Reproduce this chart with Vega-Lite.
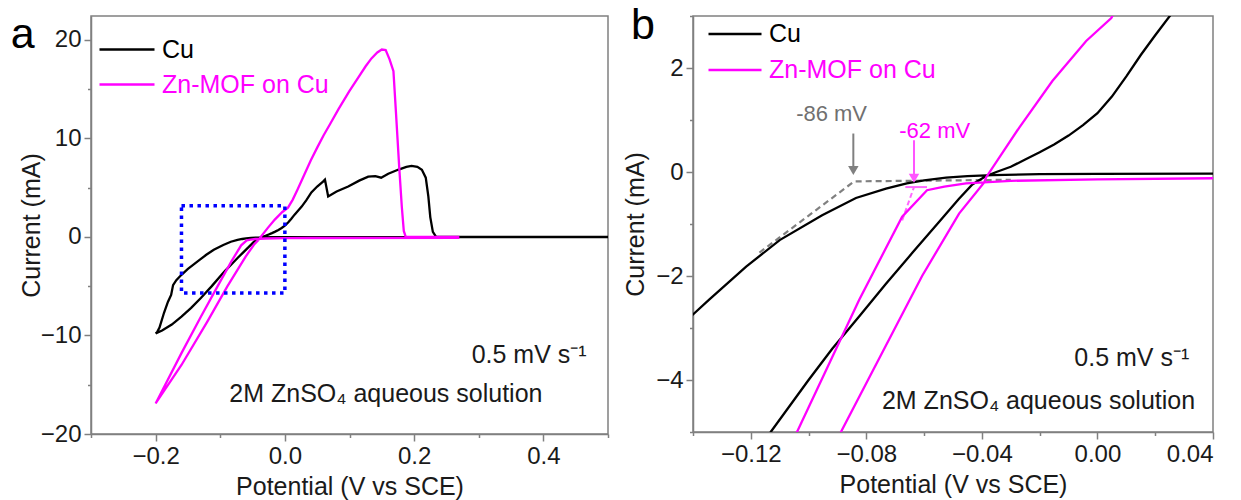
{
  "$schema": "https://vega.github.io/schema/vega-lite/v6.json",
  "background": "white",
  "padding": {"left": 10, "top": 4, "right": 4, "bottom": 0},
  "config": {
    "font": "Liberation Sans",
    "view": {"stroke": "#808080", "strokeWidth": 1.5},
    "axis": {"domainColor": "#808080", "domainWidth": 1.5, "tickColor": "#808080", "tickWidth": 1.5, "tickSize": 7, "labelColor": "#1a1a1a", "labelFontSize": 24, "labelFont": "Liberation Sans", "titleFont": "Liberation Sans", "titleFontSize": 25, "titleFontWeight": "normal", "titleColor": "#1a1a1a", "grid": false, "labelPadding": 3},
    "concat": {"spacing": 12}
  },
  "resolve": {"scale": {"color": "independent"}, "legend": {"color": "independent"}},
  "datasets": {
    "cv": [
      {"s": "Cu", "i": 1, "v": 0.5, "c": -0.03},
      {"s": "Cu", "i": 2, "v": 0.3, "c": -0.03},
      {"s": "Cu", "i": 3, "v": 0.1, "c": -0.03},
      {"s": "Cu", "i": 4, "v": 0.04, "c": -0.03},
      {"s": "Cu", "i": 5, "v": 0.0, "c": -0.035},
      {"s": "Cu", "i": 6, "v": -0.02, "c": -0.04},
      {"s": "Cu", "i": 7, "v": -0.0364, "c": -0.06},
      {"s": "Cu", "i": 8, "v": -0.045, "c": -0.08},
      {"s": "Cu", "i": 9, "v": -0.0524, "c": -0.11},
      {"s": "Cu", "i": 10, "v": -0.06, "c": -0.16},
      {"s": "Cu", "i": 11, "v": -0.066, "c": -0.22},
      {"s": "Cu", "i": 12, "v": -0.0732, "c": -0.32},
      {"s": "Cu", "i": 13, "v": -0.0836, "c": -0.5},
      {"s": "Cu", "i": 14, "v": -0.0953, "c": -0.83},
      {"s": "Cu", "i": 15, "v": -0.11, "c": -1.31},
      {"s": "Cu", "i": 16, "v": -0.1216, "c": -1.82},
      {"s": "Cu", "i": 17, "v": -0.1345, "c": -2.46},
      {"s": "Cu", "i": 18, "v": -0.14, "c": -2.74},
      {"s": "Cu", "i": 19, "v": -0.15, "c": -3.25},
      {"s": "Cu", "i": 20, "v": -0.16, "c": -3.85},
      {"s": "Cu", "i": 21, "v": -0.168, "c": -4.4},
      {"s": "Cu", "i": 22, "v": -0.173, "c": -4.9},
      {"s": "Cu", "i": 23, "v": -0.176, "c": -5.9},
      {"s": "Cu", "i": 24, "v": -0.181, "c": -6.6},
      {"s": "Cu", "i": 25, "v": -0.187, "c": -7.7},
      {"s": "Cu", "i": 26, "v": -0.194, "c": -9.2},
      {"s": "Cu", "i": 27, "v": -0.198, "c": -9.7},
      {"s": "Cu", "i": 28, "v": -0.2, "c": -9.8},
      {"s": "Cu", "i": 29, "v": -0.19, "c": -9.5},
      {"s": "Cu", "i": 30, "v": -0.175, "c": -8.9},
      {"s": "Cu", "i": 31, "v": -0.16, "c": -8.1},
      {"s": "Cu", "i": 32, "v": -0.145, "c": -7.2},
      {"s": "Cu", "i": 33, "v": -0.13, "c": -6.2},
      {"s": "Cu", "i": 34, "v": -0.1131, "c": -5.0},
      {"s": "Cu", "i": 35, "v": -0.1, "c": -4.0},
      {"s": "Cu", "i": 36, "v": -0.0918, "c": -3.4},
      {"s": "Cu", "i": 37, "v": -0.0825, "c": -2.78},
      {"s": "Cu", "i": 38, "v": -0.0732, "c": -2.15},
      {"s": "Cu", "i": 39, "v": -0.064, "c": -1.55},
      {"s": "Cu", "i": 40, "v": -0.055, "c": -0.97},
      {"s": "Cu", "i": 41, "v": -0.048, "c": -0.52},
      {"s": "Cu", "i": 42, "v": -0.0433, "c": -0.24},
      {"s": "Cu", "i": 43, "v": -0.0387, "c": -0.08},
      {"s": "Cu", "i": 44, "v": -0.035, "c": 0.0},
      {"s": "Cu", "i": 45, "v": -0.03, "c": 0.1},
      {"s": "Cu", "i": 46, "v": -0.025, "c": 0.24},
      {"s": "Cu", "i": 47, "v": -0.02, "c": 0.38},
      {"s": "Cu", "i": 48, "v": -0.015, "c": 0.53},
      {"s": "Cu", "i": 49, "v": -0.01, "c": 0.7},
      {"s": "Cu", "i": 50, "v": -0.005, "c": 0.9},
      {"s": "Cu", "i": 51, "v": 0.0, "c": 1.13},
      {"s": "Cu", "i": 52, "v": 0.005, "c": 1.45},
      {"s": "Cu", "i": 53, "v": 0.01, "c": 1.84},
      {"s": "Cu", "i": 54, "v": 0.015, "c": 2.25},
      {"s": "Cu", "i": 55, "v": 0.02, "c": 2.63},
      {"s": "Cu", "i": 56, "v": 0.026, "c": 3.07},
      {"s": "Cu", "i": 57, "v": 0.033, "c": 3.7},
      {"s": "Cu", "i": 58, "v": 0.041, "c": 4.5},
      {"s": "Cu", "i": 59, "v": 0.05, "c": 5.1},
      {"s": "Cu", "i": 60, "v": 0.059, "c": 5.6},
      {"s": "Cu", "i": 61, "v": 0.062, "c": 5.8},
      {"s": "Cu", "i": 62, "v": 0.067, "c": 4.1},
      {"s": "Cu", "i": 63, "v": 0.08, "c": 4.6},
      {"s": "Cu", "i": 64, "v": 0.098, "c": 5.1},
      {"s": "Cu", "i": 65, "v": 0.115, "c": 5.7},
      {"s": "Cu", "i": 66, "v": 0.129, "c": 6.1},
      {"s": "Cu", "i": 67, "v": 0.14, "c": 6.15},
      {"s": "Cu", "i": 68, "v": 0.149, "c": 6.0},
      {"s": "Cu", "i": 69, "v": 0.16, "c": 6.4},
      {"s": "Cu", "i": 70, "v": 0.175, "c": 6.8},
      {"s": "Cu", "i": 71, "v": 0.188, "c": 7.1},
      {"s": "Cu", "i": 72, "v": 0.196, "c": 7.2},
      {"s": "Cu", "i": 73, "v": 0.205, "c": 7.1},
      {"s": "Cu", "i": 74, "v": 0.212, "c": 6.8},
      {"s": "Cu", "i": 75, "v": 0.218, "c": 6.0},
      {"s": "Cu", "i": 76, "v": 0.222, "c": 4.1},
      {"s": "Cu", "i": 77, "v": 0.225, "c": 2.0},
      {"s": "Cu", "i": 78, "v": 0.229, "c": 0.5},
      {"s": "Cu", "i": 79, "v": 0.234, "c": 0.0},
      {"s": "Cu", "i": 80, "v": 0.5, "c": 0.0},
      {"s": "Zn-MOF on Cu", "i": 1, "v": 0.27, "c": -0.1},
      {"s": "Zn-MOF on Cu", "i": 2, "v": 0.04, "c": -0.12},
      {"s": "Zn-MOF on Cu", "i": 3, "v": 0.0, "c": -0.14},
      {"s": "Zn-MOF on Cu", "i": 4, "v": -0.03, "c": -0.17},
      {"s": "Zn-MOF on Cu", "i": 5, "v": -0.0455, "c": -0.22},
      {"s": "Zn-MOF on Cu", "i": 6, "v": -0.053, "c": -0.28},
      {"s": "Zn-MOF on Cu", "i": 7, "v": -0.059, "c": -0.35},
      {"s": "Zn-MOF on Cu", "i": 8, "v": -0.0676, "c": -0.86},
      {"s": "Zn-MOF on Cu", "i": 9, "v": -0.0825, "c": -2.46},
      {"s": "Zn-MOF on Cu", "i": 10, "v": -0.104, "c": -5.0},
      {"s": "Zn-MOF on Cu", "i": 11, "v": -0.13, "c": -8.1},
      {"s": "Zn-MOF on Cu", "i": 12, "v": -0.16, "c": -11.8},
      {"s": "Zn-MOF on Cu", "i": 13, "v": -0.2, "c": -16.9},
      {"s": "Zn-MOF on Cu", "i": 14, "v": -0.16, "c": -13.0},
      {"s": "Zn-MOF on Cu", "i": 15, "v": -0.12, "c": -8.6},
      {"s": "Zn-MOF on Cu", "i": 16, "v": -0.0888, "c": -5.0},
      {"s": "Zn-MOF on Cu", "i": 17, "v": -0.0607, "c": -2.0},
      {"s": "Zn-MOF on Cu", "i": 18, "v": -0.0479, "c": -0.8},
      {"s": "Zn-MOF on Cu", "i": 19, "v": -0.0392, "c": -0.2},
      {"s": "Zn-MOF on Cu", "i": 20, "v": -0.0385, "c": -0.1},
      {"s": "Zn-MOF on Cu", "i": 21, "v": -0.027, "c": 0.86},
      {"s": "Zn-MOF on Cu", "i": 22, "v": -0.0156, "c": 1.75},
      {"s": "Zn-MOF on Cu", "i": 23, "v": -0.0039, "c": 2.52},
      {"s": "Zn-MOF on Cu", "i": 24, "v": 0.0048, "c": 2.96},
      {"s": "Zn-MOF on Cu", "i": 25, "v": 0.012, "c": 3.75},
      {"s": "Zn-MOF on Cu", "i": 26, "v": 0.02, "c": 4.85},
      {"s": "Zn-MOF on Cu", "i": 27, "v": 0.03, "c": 6.3},
      {"s": "Zn-MOF on Cu", "i": 28, "v": 0.04, "c": 7.75},
      {"s": "Zn-MOF on Cu", "i": 29, "v": 0.05, "c": 9.05},
      {"s": "Zn-MOF on Cu", "i": 30, "v": 0.06, "c": 10.3},
      {"s": "Zn-MOF on Cu", "i": 31, "v": 0.07, "c": 11.45},
      {"s": "Zn-MOF on Cu", "i": 32, "v": 0.083, "c": 12.95},
      {"s": "Zn-MOF on Cu", "i": 33, "v": 0.1, "c": 14.8},
      {"s": "Zn-MOF on Cu", "i": 34, "v": 0.114, "c": 16.2},
      {"s": "Zn-MOF on Cu", "i": 35, "v": 0.125, "c": 17.3},
      {"s": "Zn-MOF on Cu", "i": 36, "v": 0.134, "c": 18.1},
      {"s": "Zn-MOF on Cu", "i": 37, "v": 0.143, "c": 18.7},
      {"s": "Zn-MOF on Cu", "i": 38, "v": 0.15, "c": 19.0},
      {"s": "Zn-MOF on Cu", "i": 39, "v": 0.156, "c": 18.95},
      {"s": "Zn-MOF on Cu", "i": 40, "v": 0.162, "c": 18.0},
      {"s": "Zn-MOF on Cu", "i": 41, "v": 0.168, "c": 16.8},
      {"s": "Zn-MOF on Cu", "i": 42, "v": 0.172, "c": 12.5},
      {"s": "Zn-MOF on Cu", "i": 43, "v": 0.177, "c": 7.0},
      {"s": "Zn-MOF on Cu", "i": 44, "v": 0.181, "c": 3.0},
      {"s": "Zn-MOF on Cu", "i": 45, "v": 0.184, "c": 0.6},
      {"s": "Zn-MOF on Cu", "i": 46, "v": 0.187, "c": 0.0},
      {"s": "Zn-MOF on Cu", "i": 47, "v": 0.27, "c": 0.0}
    ],
    "notes": [
      {"p": "a", "k": "letter", "v": -0.424, "c": 19.2, "t": "a"},
      {"p": "b", "k": "letter", "v": -0.1615, "c": 2.56, "t": "b"},
      {"p": "a", "k": "black", "v": 0.289, "c": -12.8, "t": "0.5 mV s⁻¹"},
      {"p": "a", "k": "black", "v": -0.086, "c": -16.8, "t": "2M ZnSO₄ aqueous solution"},
      {"p": "b", "k": "black", "v": -0.008, "c": -3.74, "t": "0.5 mV s⁻¹"},
      {"p": "b", "k": "black", "v": -0.0746, "c": -4.56, "t": "2M ZnSO₄ aqueous solution"},
      {"p": "b", "k": "gray", "v": -0.1043, "c": 0.99, "t": "-86 mV"},
      {"p": "b", "k": "magenta", "v": -0.0686, "c": 0.66, "t": "-62 mV"}
    ],
    "box": [{"x1": -0.16, "x2": 0.0, "y1": -5.7, "y2": 3.15}],
    "guides": [
      {"g": "gray", "i": 1, "v": -0.117, "c": -1.55},
      {"g": "gray", "i": 2, "v": -0.0842, "c": -0.18},
      {"g": "gray", "i": 3, "v": -0.03, "c": -0.15},
      {"g": "mag", "i": 1, "v": -0.0676, "c": -0.93},
      {"g": "mag", "i": 2, "v": -0.0635, "c": -0.29},
      {"g": "magh", "i": 1, "v": -0.0665, "c": -0.29},
      {"g": "magh", "i": 2, "v": -0.059, "c": -0.29}
    ],
    "arrows": [
      {"k": "gray", "v": -0.0845, "c1": 0.74, "c2": 0.03},
      {"k": "mag", "v": -0.0635, "c1": 0.61, "c2": -0.12}
    ]
  },
  "hconcat": [
    {
      "width": 517,
      "height": 418,
      "layer": [
        {
          "data": {"name": "cv"},
          "mark": {"type": "line", "strokeWidth": 2.3, "clip": true},
          "encoding": {
            "x": {"field": "v", "type": "quantitative", "scale": {"domain": [-0.3, 0.5], "nice": false, "zero": false}, "axis": {"values": [-0.2, 0, 0.2, 0.4], "format": ".1f", "title": "Potential (V vs SCE)", "orient": "bottom", "titlePadding": 6}},
            "y": {"field": "c", "type": "quantitative", "scale": {"domain": [-20, 22.4], "nice": false, "zero": false}, "axis": {"values": [-20, -10, 0, 10, 20], "format": "d", "title": "Current (mA)", "orient": "left", "titlePadding": -4}},
            "color": {"field": "s", "type": "nominal", "scale": {"domain": ["Cu", "Zn-MOF on Cu"], "range": ["#000000", "#ff00ff"]},
              "legend": {"orient": "none", "legendX": 7, "legendY": 16, "title": null, "symbolType": "stroke", "symbolSize": 3025, "symbolStrokeWidth": 2.5, "labelFontSize": 25, "labelFont": "Liberation Sans", "labelOffset": 6, "labelLimit": 0, "rowPadding": 0, "clipHeight": 35, "labelColor": "#000000",
                "encode": {"labels": {"update": {"fill": {"signal": "datum.value === 'Cu' ? '#000000' : '#ff00ff'"}}}}}},
            "order": {"field": "i", "type": "quantitative"}
          }
        },
        {
          "data": {"name": "box"},
          "mark": {"type": "rect", "fill": "transparent", "stroke": "#0000ff", "strokeWidth": 3.5, "strokeDash": [3.5, 4.5]},
          "encoding": {
            "x": {"field": "x1", "type": "quantitative", "axis": null},
            "x2": {"field": "x2"},
            "y": {"field": "y1", "type": "quantitative", "axis": null},
            "y2": {"field": "y2"}
          }
        },
        {
          "data": {"name": "cv"},
          "mark": {"type": "point", "opacity": 0, "clip": true},
          "encoding": {
            "x": {"field": "v", "type": "quantitative", "axis": {"values": [-0.3, -0.1, 0.1, 0.3, 0.5], "labels": false, "domain": false, "tickSize": 3.5, "title": null, "orient": "bottom"}},
            "y": {"field": "c", "type": "quantitative", "axis": {"values": [-15, -5, 5, 15], "labels": false, "domain": false, "tickSize": 3.5, "title": null, "orient": "left"}}
          }
        },
        {
          "data": {"name": "notes"},
          "transform": [{"filter": "datum.p === 'a' && datum.k === 'letter'"}],
          "mark": {"type": "text", "fontSize": 43, "align": "left", "baseline": "alphabetic", "color": "#000000"},
          "encoding": {
            "x": {"field": "v", "type": "quantitative", "axis": null},
            "y": {"field": "c", "type": "quantitative", "axis": null},
            "text": {"field": "t"}
          }
        },
        {
          "data": {"name": "notes"},
          "transform": [{"filter": "datum.p === 'a' && datum.k === 'black'"}],
          "mark": {"type": "text", "fontSize": 25, "align": "left", "baseline": "alphabetic", "color": "#1a1a1a"},
          "encoding": {
            "x": {"field": "v", "type": "quantitative", "axis": null},
            "y": {"field": "c", "type": "quantitative", "axis": null},
            "text": {"field": "t"}
          }
        }
      ],
      "resolve": {"axis": {"x": "independent", "y": "independent"}}
    },
    {
      "width": 520,
      "height": 416,
      "layer": [
        {
          "data": {"name": "guides"},
          "transform": [{"filter": "datum.g === 'gray'"}],
          "mark": {"type": "line", "color": "#808080", "strokeWidth": 2.2, "strokeDash": [6, 4], "clip": true},
          "encoding": {
            "x": {"field": "v", "type": "quantitative", "axis": null},
            "y": {"field": "c", "type": "quantitative", "axis": null},
            "order": {"field": "i", "type": "quantitative"}
          }
        },
        {
          "data": {"name": "guides"},
          "transform": [{"filter": "datum.g === 'mag'"}],
          "mark": {"type": "line", "color": "#ff66ff", "strokeWidth": 2, "strokeDash": [5, 3], "clip": true},
          "encoding": {
            "x": {"field": "v", "type": "quantitative", "axis": null},
            "y": {"field": "c", "type": "quantitative", "axis": null},
            "order": {"field": "i", "type": "quantitative"}
          }
        },
        {
          "data": {"name": "guides"},
          "transform": [{"filter": "datum.g === 'magh'"}],
          "mark": {"type": "line", "color": "#ff66ff", "strokeWidth": 2, "clip": true},
          "encoding": {
            "x": {"field": "v", "type": "quantitative", "axis": null},
            "y": {"field": "c", "type": "quantitative", "axis": null},
            "order": {"field": "i", "type": "quantitative"}
          }
        },
        {
          "data": {"name": "cv"},
          "mark": {"type": "line", "strokeWidth": 2.3, "clip": true},
          "encoding": {
            "x": {"field": "v", "type": "quantitative", "scale": {"domain": [-0.14, 0.04], "nice": false, "zero": false}, "axis": {"values": [-0.12, -0.08, -0.04, 0, 0.04], "format": ".2f", "title": "Potential (V vs SCE)", "orient": "bottom", "titlePadding": 6}},
            "y": {"field": "c", "type": "quantitative", "scale": {"domain": [-5, 3], "nice": false, "zero": false}, "axis": {"values": [-4, -2, 0, 2], "format": "d", "title": "Current (mA)", "orient": "left", "titlePadding": 7}},
            "color": {"field": "s", "type": "nominal", "scale": {"domain": ["Cu", "Zn-MOF on Cu"], "range": ["#000000", "#ff00ff"]},
              "legend": {"orient": "none", "legendX": 14, "legendY": 0, "title": null, "symbolType": "stroke", "symbolSize": 2809, "symbolStrokeWidth": 2.5, "labelFontSize": 25, "labelFont": "Liberation Sans", "labelOffset": 6, "labelLimit": 0, "rowPadding": 0, "clipHeight": 36, "labelColor": "#000000",
                "encode": {"labels": {"update": {"fill": {"signal": "datum.value === 'Cu' ? '#000000' : '#ff00ff'"}}}}}},
            "order": {"field": "i", "type": "quantitative"}
          }
        },
        {
          "data": {"name": "arrows"},
          "transform": [{"filter": "datum.k === 'gray'"}],
          "layer": [
            {"mark": {"type": "rule", "color": "#808080", "strokeWidth": 2},
             "encoding": {"x": {"field": "v", "type": "quantitative", "axis": null}, "y": {"field": "c1", "type": "quantitative", "axis": null}, "y2": {"field": "c2"}}},
            {"mark": {"type": "point", "shape": "triangle-down", "filled": true, "color": "#808080", "size": 110, "opacity": 1},
             "encoding": {"x": {"field": "v", "type": "quantitative", "axis": null}, "y": {"field": "c2", "type": "quantitative", "axis": null}}}
          ]
        },
        {
          "data": {"name": "arrows"},
          "transform": [{"filter": "datum.k === 'mag'"}],
          "layer": [
            {"mark": {"type": "rule", "color": "#ff55ff", "strokeWidth": 2},
             "encoding": {"x": {"field": "v", "type": "quantitative", "axis": null}, "y": {"field": "c1", "type": "quantitative", "axis": null}, "y2": {"field": "c2"}}},
            {"mark": {"type": "point", "shape": "triangle-down", "filled": true, "color": "#ff55ff", "size": 110, "opacity": 1},
             "encoding": {"x": {"field": "v", "type": "quantitative", "axis": null}, "y": {"field": "c2", "type": "quantitative", "axis": null}}}
          ]
        },
        {
          "data": {"name": "cv"},
          "mark": {"type": "point", "opacity": 0, "clip": true},
          "encoding": {
            "x": {"field": "v", "type": "quantitative", "axis": {"values": [-0.14, -0.1, -0.06, -0.02, 0.02], "labels": false, "domain": false, "tickSize": 3.5, "title": null, "orient": "bottom"}},
            "y": {"field": "c", "type": "quantitative", "axis": {"values": [-5, -3, -1, 1, 3], "labels": false, "domain": false, "tickSize": 3.5, "title": null, "orient": "left"}}
          }
        },
        {
          "data": {"name": "notes"},
          "transform": [{"filter": "datum.p === 'b' && datum.k === 'letter'"}],
          "mark": {"type": "text", "fontSize": 43, "align": "left", "baseline": "alphabetic", "color": "#000000"},
          "encoding": {
            "x": {"field": "v", "type": "quantitative", "axis": null},
            "y": {"field": "c", "type": "quantitative", "axis": null},
            "text": {"field": "t"}
          }
        },
        {
          "data": {"name": "notes"},
          "transform": [{"filter": "datum.p === 'b' && datum.k === 'black'"}],
          "mark": {"type": "text", "fontSize": 25, "align": "left", "baseline": "alphabetic", "color": "#1a1a1a"},
          "encoding": {
            "x": {"field": "v", "type": "quantitative", "axis": null},
            "y": {"field": "c", "type": "quantitative", "axis": null},
            "text": {"field": "t"}
          }
        },
        {
          "data": {"name": "notes"},
          "transform": [{"filter": "datum.p === 'b' && datum.k === 'gray'"}],
          "mark": {"type": "text", "fontSize": 22, "align": "left", "baseline": "alphabetic", "color": "#707070"},
          "encoding": {
            "x": {"field": "v", "type": "quantitative", "axis": null},
            "y": {"field": "c", "type": "quantitative", "axis": null},
            "text": {"field": "t"}
          }
        },
        {
          "data": {"name": "notes"},
          "transform": [{"filter": "datum.p === 'b' && datum.k === 'magenta'"}],
          "mark": {"type": "text", "fontSize": 22, "align": "left", "baseline": "alphabetic", "color": "#ff00ff"},
          "encoding": {
            "x": {"field": "v", "type": "quantitative", "axis": null},
            "y": {"field": "c", "type": "quantitative", "axis": null},
            "text": {"field": "t"}
          }
        }
      ],
      "resolve": {"axis": {"x": "independent", "y": "independent"}}
    }
  ]
}
